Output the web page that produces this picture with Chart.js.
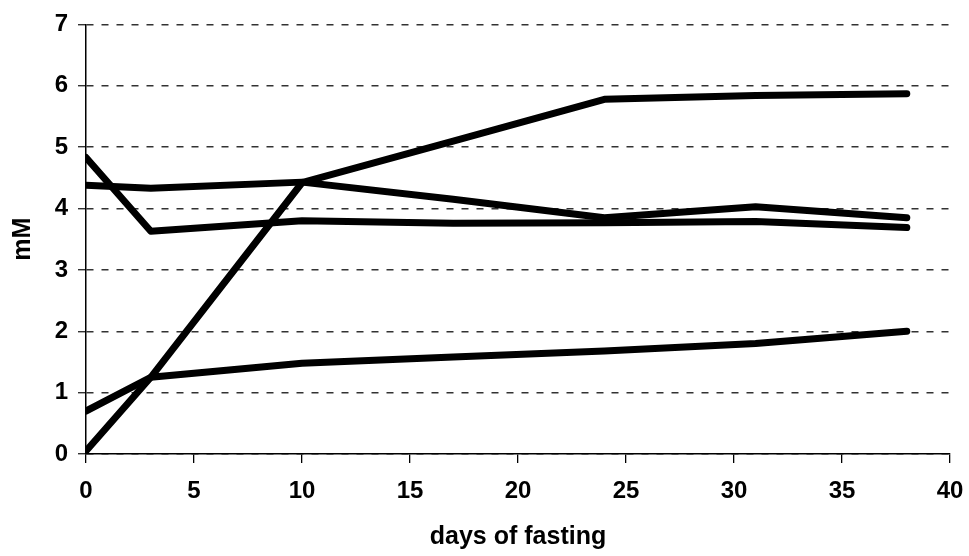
<!DOCTYPE html>
<html>
<head>
<meta charset="utf-8">
<title>days of fasting</title>
<script src="https://cdn.jsdelivr.net/npm/chart.js@4/dist/chart.umd.min.js"></script>
<style>
    html, body { margin: 0; padding: 0; background: #fff; }
    #wrap { width: 969px; height: 556px; }
</style>
</head>
<body>
<div id="wrap"><canvas id="fasting" width="969" height="556"></canvas></div>
<script>
// Dias de jejum (eixo x)
const days = [0, 3, 10, 17, 24, 31, 38];

// Concentrações em mM para cada série
const seriesRise = [0.05, 1.25, 4.42, 5.1, 5.78, 5.84, 5.87];
const seriesHigh = [4.38, 4.33, 4.43, 4.15, 3.85, 4.03, 3.85];
const seriesDrop = [4.83, 3.63, 3.8, 3.76, 3.77, 3.79, 3.69];
const seriesLow = [0.7, 1.25, 1.48, 1.58, 1.68, 1.8, 2.0];

// Ticks dos eixos
const xTicks = [0, 5, 10, 15, 20, 25, 30, 35, 40];
const yTicks = [0, 1, 2, 3, 4, 5, 6, 7];

const FONT = '"Liberation Sans", Arial, Helvetica, sans-serif';

function toPoints(values) {
    return days.map((d, i) => ({ x: d, y: values[i] }));
}

function makeDataset(values) {
    return {
        data: toPoints(values),
        borderColor: '#000',
        borderWidth: 7,
        borderCapStyle: 'round',
        borderJoinStyle: 'round',
        pointRadius: 0,
        tension: 0,
        fill: false
    };
}

function renderChart() {
    const ctx = document.getElementById('fasting').getContext('2d');

    new Chart(ctx, {
        type: 'line',
        data: {
            datasets: [
                makeDataset(seriesRise),
                makeDataset(seriesHigh),
                makeDataset(seriesDrop),
                makeDataset(seriesLow)
            ]
        },
        options: {
            responsive: false,
            animation: false,
            layout: { padding: { top: 23, right: 19, bottom: 0, left: 0 } },
            plugins: {
                legend: { display: false },
                tooltip: { enabled: false }
            },
            scales: {
                x: {
                    type: 'linear',
                    min: 0,
                    max: 40,
                    afterBuildTicks: scale => {
                        scale.ticks = xTicks.map(v => ({ value: v }));
                    },
                    afterFit: scale => {
                        scale.height = 102;
                        scale.paddingLeft = 0;
                        scale.paddingRight = 0;
                    },
                    grid: {
                        display: true,
                        drawOnChartArea: false,
                        drawTicks: true,
                        tickLength: 9,
                        color: '#000',
                        lineWidth: 1.3
                    },
                    border: { display: true, color: '#000', width: 1.5 },
                    ticks: {
                        color: '#000',
                        padding: 14,
                        maxRotation: 0,
                        font: { family: FONT, size: 24, weight: 'bold' }
                    },
                    title: {
                        display: true,
                        text: 'days of fasting',
                        color: '#000',
                        padding: { top: 0, bottom: 4 },
                        font: { family: FONT, size: 25, weight: 'bold' }
                    }
                },
                y: {
                    type: 'linear',
                    min: 0,
                    max: 7,
                    afterBuildTicks: scale => {
                        scale.ticks = yTicks.map(v => ({ value: v }));
                    },
                    afterFit: scale => { scale.width = 86; },
                    grid: {
                        color: '#333',
                        lineWidth: 1.4,
                        drawTicks: true,
                        tickLength: 8,
                        tickBorderDash: [7, 8]
                    },
                    border: { display: true, color: '#000', width: 1.5, dash: [7, 8] },
                    ticks: {
                        color: '#000',
                        padding: 10,
                        font: { family: FONT, size: 24, weight: 'bold' }
                    },
                    title: {
                        display: true,
                        text: 'mM',
                        color: '#000',
                        padding: { top: 8, bottom: 0 },
                        font: { family: FONT, size: 25, weight: 'bold' }
                    }
                }
            }
        }
    });
}

renderChart();
</script>
</body>
</html>
